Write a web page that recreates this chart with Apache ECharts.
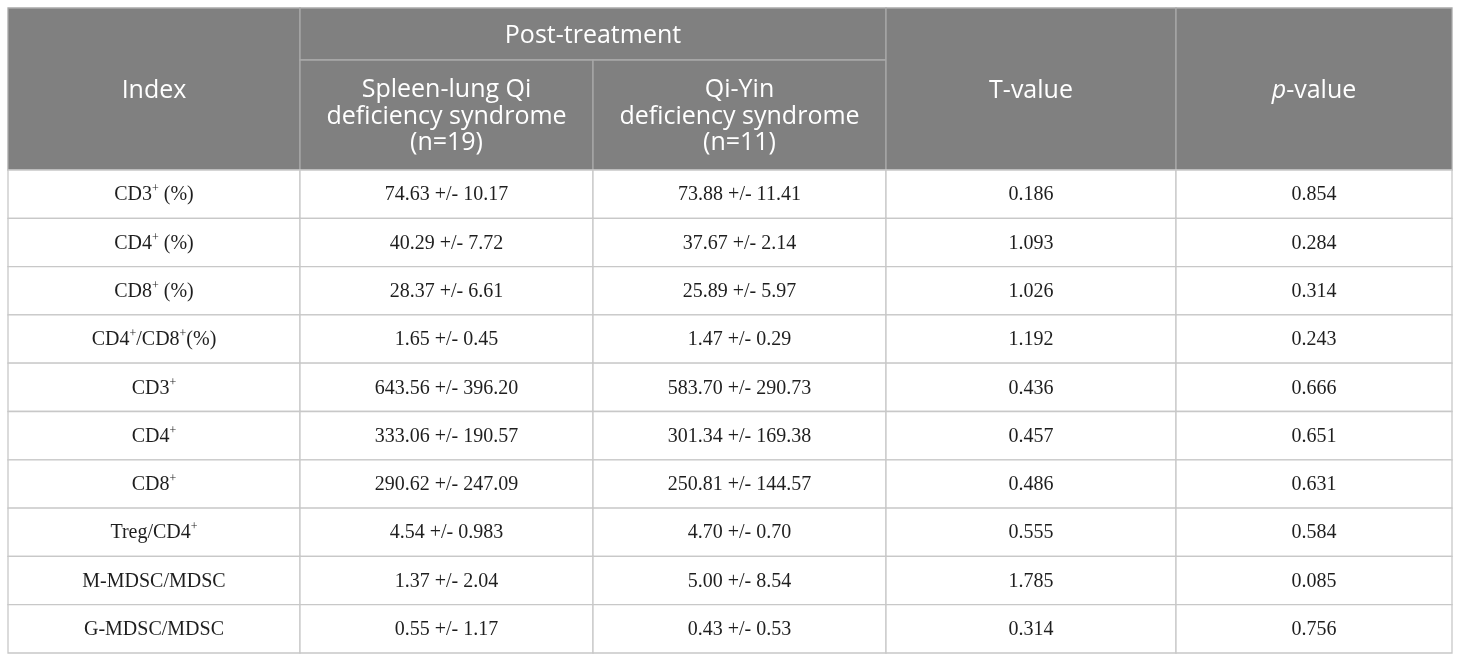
<!DOCTYPE html>
<html>
<head>
    <meta charset="utf-8">
    <title>Post-treatment index table</title>
    <script src="https://cdn.jsdelivr.net/npm/echarts@6/dist/echarts.min.js"></script>
    <style>
        html, body { margin: 0; padding: 0; background: #fff; }
        #main { width: 1460px; height: 661px; }
    </style>
</head>
<body>
<div id="main"></div>
<script type="text/javascript">
    // 表格数据
    var indexNames = ['CD3+ (%)', 'CD4+ (%)', 'CD8+ (%)', 'CD4+/CD8+(%)', 'CD3+', 'CD4+', 'CD8+', 'Treg/CD4+', 'M-MDSC/MDSC', 'G-MDSC/MDSC'];
    var spleenLung = ['74.63 +/- 10.17', '40.29 +/- 7.72', '28.37 +/- 6.61', '1.65 +/- 0.45', '643.56 +/- 396.20',
        '333.06 +/- 190.57', '290.62 +/- 247.09', '4.54 +/- 0.983', '1.37 +/- 2.04', '0.55 +/- 1.17'];
    var qiYin = ['73.88 +/- 11.41', '37.67 +/- 2.14', '25.89 +/- 5.97', '1.47 +/- 0.29', '583.70 +/- 290.73',
        '301.34 +/- 169.38', '250.81 +/- 144.57', '4.70 +/- 0.70', '5.00 +/- 8.54', '0.43 +/- 0.53'];
    var tValues = ['0.186', '1.093', '1.026', '1.192', '0.436', '0.457', '0.486', '0.555', '1.785', '0.314'];
    var pValues = ['0.854', '0.284', '0.314', '0.243', '0.666', '0.651', '0.631', '0.584', '0.085', '0.756'];

    // 布局 (列边界, 表头高度以行高为单位)
    var colEdges = [0, 292, 585, 878, 1168, 1444];
    var headTop = -3.354, headMid = -2.277;

    function supText(s) {
        // "+" 变成上标
        return s.split('+').map(function (p) { return p ? '{n|' + p + '}' : ''; }).join('{s|+}');
    }

    var cells = [];
    cells.push({c: [0, 1], r: [headTop, 0], text: '{h|Index}', head: true});
    cells.push({c: [1, 3], r: [headTop, headMid], text: '{h|Post-treatment}', head: true});
    cells.push({c: [1, 2], r: [headMid, 0], text: '{h|Spleen-lung Qi}\n{h|deficiency syndrome}\n{h|(n=19)}', head: true});
    cells.push({c: [2, 3], r: [headMid, 0], text: '{h|Qi-Yin}\n{h|deficiency syndrome}\n{h|(n=11)}', head: true});
    cells.push({c: [3, 4], r: [headTop, 0], text: '{h|T-value}', head: true});
    cells.push({c: [4, 5], r: [headTop, 0], text: '{i|p}{h|-value}', head: true});
    for (var i = 0; i < indexNames.length; i++) {
        var cols = [supText(indexNames[i]), '{n|' + spleenLung[i] + '}', '{n|' + qiYin[i] + '}',
            '{n|' + tValues[i] + '}', '{n|' + pValues[i] + '}'];
        for (var j = 0; j < cols.length; j++) {
            cells.push({c: [j, j + 1], r: [i, i + 1], text: cols[j], head: false});
        }
    }

    var myChart = echarts.init(document.getElementById('main'));
    myChart.setOption({
        animation: false,
        grid: {left: 8, top: 8, width: 1444, height: 645},
        xAxis: {type: 'value', min: 0, max: 1444, show: false},
        yAxis: {type: 'value', min: headTop, max: 10, inverse: true, show: false},
        series: [{
            type: 'custom',
            data: cells.map(function (d) {
                return [colEdges[d.c[0]], colEdges[d.c[1]], d.r[0], d.r[1]];
            }),
            renderItem: function (params, api) {
                var cell = cells[params.dataIndex];
                var p0 = api.coord([api.value(0), api.value(2)]);
                var p1 = api.coord([api.value(1), api.value(3)]);
                return {
                    type: 'group',
                    children: [{
                        type: 'rect',
                        shape: {x: p0[0], y: p0[1], width: p1[0] - p0[0], height: p1[1] - p0[1]},
                        style: {
                            fill: cell.head ? '#808080' : '#ffffff',
                            stroke: cell.head ? '#a9a9a9' : '#c8c8c8',
                            lineWidth: 1.3
                        }
                    }, {
                        type: 'text',
                        x: (p0[0] + p1[0]) / 2,
                        y: (p0[1] + p1[1]) / 2 + (cell.head ? 1.5 : 1),
                        style: {
                            text: cell.text,
                            align: 'center',
                            verticalAlign: 'middle',
                            rich: {
                                h: {fontFamily: 'Open Sans', fontSize: 25, lineHeight: 26.5, fill: '#ffffff'},
                                i: {fontFamily: 'Open Sans', fontSize: 25, lineHeight: 26.5, fill: '#ffffff', fontStyle: 'italic'},
                                n: {fontFamily: 'Liberation Serif', fontSize: 20, lineHeight: 24, fill: '#1e1e1e'},
                                s: {fontFamily: 'Liberation Serif', fontSize: 12, lineHeight: 12, fill: '#1e1e1e', verticalAlign: 'top'}
                            }
                        }
                    }]
                };
            }
        }]
    });
</script>
</body>
</html>
